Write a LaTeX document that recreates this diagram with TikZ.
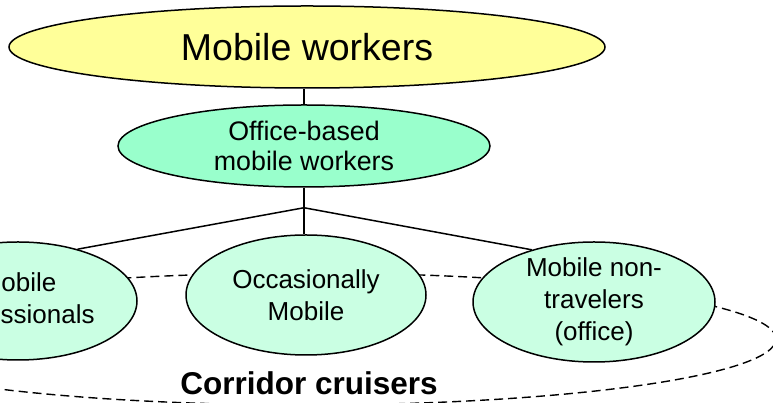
\documentclass[tikz,border=0pt]{standalone}
\usepackage{fontspec}
\setmainfont{Liberation Sans}
\usetikzlibrary{shapes.geometric}

\definecolor{bannerYellow}{RGB}{255,255,153}
\definecolor{midGreen}{RGB}{153,255,204}
\definecolor{paleGreen}{RGB}{202,255,227}

\tikzset{
  blob/.style={ellipse, draw=black, line width=1.5pt, inner sep=0pt},
  link/.style={draw=black, line width=1.5pt},
  groupring/.style={ellipse, draw=black, line width=1.4pt, dash pattern=on 9pt off 5pt, inner sep=0pt},
  bigtxt/.style={font=\fontsize{37.5}{42}\selectfont},
  midtxt/.style={align=center, font=\fontsize{26.8}{30}\selectfont},
  lowtxt/.style={align=center, font=\fontsize{26}{32}\selectfont},
  grouptxt/.style={font=\bfseries\fontsize{31.5}{36}\selectfont},
}

\begin{document}
\begin{tikzpicture}[x=1pt,y=1pt]
\useasboundingbox (0,0) rectangle (773,403);
\clip (0,0) rectangle (773,403);

% dashed ring that groups the three lower categories
\node[groupring, minimum width=940pt, minimum height=132pt] (ring) at (306,64) {};
\node[grouptxt, anchor=base] (ringtxt) at (309,8) {Corridor cruisers};

% ellipses
\node[blob, fill=bannerYellow, minimum width=596pt, minimum height=82pt] (mw) at (307,356) {};
\node[bigtxt] (mwtxt) at (mw.center) {Mobile workers};

\node[blob, fill=midGreen, minimum width=372pt, minimum height=82pt] (ofc) at (304,257) {};
\node[midtxt] (ofctxt) at (ofc.center) {Office-based\\mobile workers};

\node[blob, fill=paleGreen, minimum width=238pt, minimum height=118pt] (prof) at (18,102) {};
\node[lowtxt] (proftxt) at (prof.center) {Mobile\\professionals};

\node[blob, fill=paleGreen, minimum width=240pt, minimum height=120pt] (occ) at (306,108) {};
\node[lowtxt] (occtxt) at (occ.center) {Occasionally\\Mobile};

\node[blob, fill=paleGreen, minimum width=242pt, minimum height=120pt] (ntr) at (594,101) {};
\node[lowtxt] (ntrtxt) at (ntr.center) {Mobile non-\\travelers\\(office)};

% tree connectors
\coordinate (j) at ([yshift=-20pt]ofc.south);
\draw[link] (ofc.north) -- (ofc.north |- mw.south);
\draw[link] (ofc.south) -- (j);
\draw[link] (j) -- (prof.41);
\draw[link] (j) -- (j |- occ.north);
\draw[link] (j) -- (ntr.140);
\end{tikzpicture}
\end{document}
